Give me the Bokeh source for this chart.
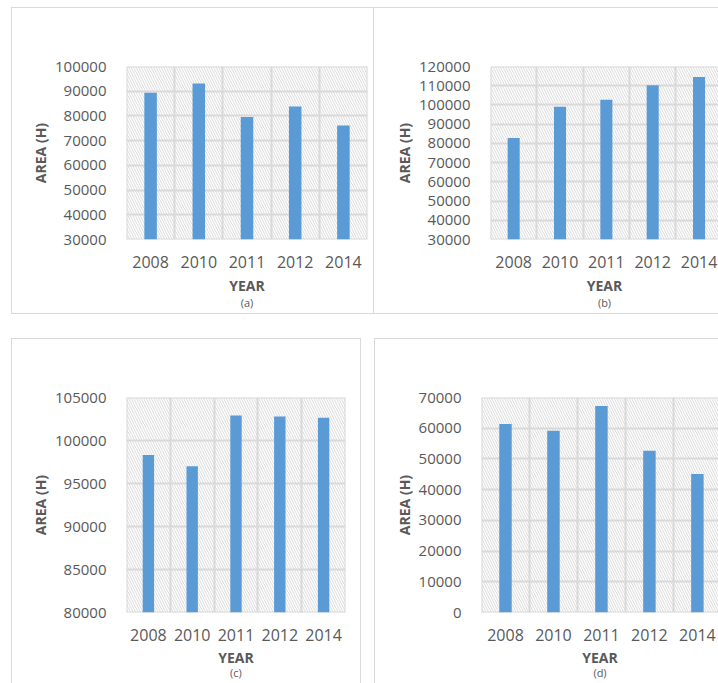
from bokeh.plotting import figure
from bokeh.layouts import column, row
from bokeh.models import (Range1d, FixedTicker, SingleIntervalTicker, LinearAxis,
                          BoxAnnotation, NumeralTickFormatter, Span)
from bokeh.embed import file_html
from bokeh.resources import INLINE

# ---- data -------------------------------------------------------------
years = ["2008", "2010", "2011", "2012", "2014"]

area_a = [89400, 93100, 79600, 83800, 76100]
area_b = [82750, 99000, 102700, 110300, 114600]
area_c = [98300, 97000, 102900, 102800, 102650]
area_d = [61400, 59200, 67200, 52700, 45100]

# (start, end, step) of each value axis
yaxis_a = (30000, 100000, 10000)
yaxis_b = (30000, 120000, 10000)
yaxis_c = (80000, 105000, 5000)
yaxis_d = (0, 70000, 10000)

# ---- style ------------------------------------------------------------
FONT = "Open Sans"
TEXT = "#595959"
GRID = "#d9d9d9"
BAR = "#5b9bd5"


def panel(tag, values, yspec, width, height, borders, margin, x_end,
          title_gap, caption_gap):
    ymin, ymax, step = yspec
    bl, br, bt, bb = borders
    p = figure(width=width, height=height, output_backend="svg",
               toolbar_location=None,
               x_range=Range1d(-0.5, x_end), y_range=Range1d(ymin, ymax),
               min_border_left=bl, min_border_right=br,
               min_border_top=bt, min_border_bottom=bb,
               margin=margin,
               styles={"outline": f"1px solid {GRID}"})
    p.background_fill_color = "white"
    p.border_fill_color = "white"
    p.outline_line_color = None

    # diagonal hatching behind the plot area
    p.add_layout(BoxAnnotation(fill_color=None, line_color=None,
                               hatch_pattern="\\", hatch_color="#d6d6d6",
                               hatch_scale=5, hatch_weight=0.9,
                               level="image"))

    xs = list(range(len(years)))
    p.vbar(x=xs, top=values, bottom=ymin, width=0.26,
           fill_color=BAR, line_color=None)

    # grid: category boundaries + value steps
    p.xgrid.ticker = FixedTicker(ticks=[i - 0.5 for i in range(len(years) + 1)])
    for g in (p.xgrid[0], p.ygrid[0]):
        g.grid_line_color = GRID
        g.grid_line_width = 2

    # plot-area edges (the grid leaves out lines at the range ends)
    edges = [Span(location=-0.5, dimension="height"),
             Span(location=ymin, dimension="width"),
             Span(location=ymax, dimension="width")]
    if x_end >= len(years) - 0.5:
        edges.append(Span(location=len(years) - 0.5, dimension="height"))
    for s in edges:
        s.line_color = GRID
        s.line_width = 2
        s.level = "underlay"
        p.add_layout(s)

    for ax in (p.xaxis[0], p.yaxis[0]):
        ax.axis_line_color = None
        ax.major_tick_line_color = None
        ax.minor_tick_line_color = None
        ax.major_tick_out = 0
        ax.major_tick_in = 0
        ax.major_label_text_font = FONT
        ax.major_label_text_color = TEXT
        ax.axis_label_text_font = FONT
        ax.axis_label_text_color = TEXT
        ax.axis_label_text_font_style = "bold"
        ax.axis_label_text_font_size = "14px"

    xa = p.xaxis[0]
    xa.ticker = FixedTicker(ticks=xs)
    xa.major_label_overrides = {i: y for i, y in enumerate(years)}
    xa.major_label_text_font_size = "16px"
    xa.major_label_standoff = 16
    xa.axis_label = "YEAR"
    xa.axis_label_standoff = title_gap

    ya = p.yaxis[0]
    ya.ticker = SingleIntervalTicker(interval=step, num_minor_ticks=0)
    ya.formatter = NumeralTickFormatter(format="0")
    ya.major_label_text_font_size = "15px"
    ya.major_label_standoff = 20
    ya.axis_label = "AREA (H)"
    ya.axis_label_standoff = 2

    # sub-figure caption tucked under the axis title
    cap = LinearAxis(ticker=FixedTicker(ticks=[]), axis_label=f"({tag})",
                     axis_line_color=None, major_tick_line_color=None,
                     minor_tick_line_color=None, major_tick_out=0,
                     major_tick_in=0, major_label_standoff=0,
                     major_label_text_font_size="0px",
                     axis_label_standoff=caption_gap,
                     axis_label_text_font=FONT,
                     axis_label_text_font_size="11px",
                     axis_label_text_font_style="normal",
                     axis_label_text_color=TEXT)
    p.add_layout(cap, "below")
    return p


# borders: (left, right, top, bottom); margin: (top, right, bottom, left)
pa = panel("a", area_a, yaxis_a, 361, 305, (114, 6, 58, 74), (8, 0, 0, 12), 4.5, 5, -3)
pb = panel("b", area_b, yaxis_b, 344, 305, (116, 0, 58, 74), (8, 0, 0, 1), 4.42, 5, -3)
pc = panel("c", area_c, yaxis_c, 348, 344, (114, 15, 58, 71), (26, 0, 0, 12), 4.5, 4, -5)
pd = panel("d", area_d, yaxis_d, 343, 344, (106, 0, 58, 71), (26, 0, 0, 15), 4.44, 4, -5)

layout = column(row(pa, pb), row(pc, pd))
open("out.html", "w").write(file_html(layout, INLINE))
